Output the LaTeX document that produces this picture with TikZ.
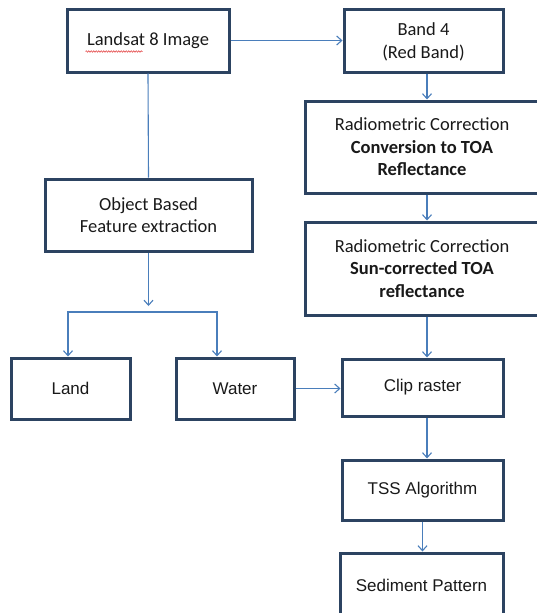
\documentclass[tikz,border=0pt]{standalone}
\usepackage{fontspec}
\setmainfont{Carlito}
\newfontfamily\arialfont{Liberation Sans}
\usetikzlibrary{arrows.meta,decorations.pathmorphing}

\definecolor{boxline}{HTML}{2C4361}
\definecolor{flowline}{HTML}{4A7EBB}
\definecolor{spellred}{HTML}{E03030}

\tikzset{
  procbox/.style={draw=boxline, line width=3pt, inner sep=0pt, align=center,
    font=\fontsize{18.5}{22.5}\selectfont, text=black!90},
  arialbox/.style={procbox, font=\arialfont\fontsize{17}{20}\selectfont},
  flow/.style={draw=flowline, line width=1.1pt, -{Straight Barb[length=5pt,width=9pt]}},
  link/.style={draw=flowline, line width=1.1pt}
}

\begin{document}
\begin{tikzpicture}[x=1pt, y=-1pt]
  \useasboundingbox (0,0) rectangle (536,613);

  % left column
  \node[procbox, minimum width=162pt, minimum height=63pt] (landsat) at (148,40.5) {Landsat 8 Image};
  \node[procbox, minimum width=207pt, minimum height=72pt] (object) at (148.5,215) {Object Based\\Feature extraction};
  \node[arialbox, minimum width=119pt, minimum height=61pt] (land) at (70.5,388.5) {Land};
  \node[arialbox, minimum width=118pt, minimum height=61pt] (water) at (235,388.5) {Water};

  % right column
  \node[procbox, minimum width=159pt, minimum height=63pt] (band4) at (423.5,40.5) {\strut Band 4\\(Red Band)};
  \node[procbox, minimum width=234pt, minimum height=92pt] (rad1) at (422,147)
    {Radiometric Correction\\\textbf{Conversion to TOA}\\\textbf{Reflectance}};
  \node[procbox, minimum width=234pt, minimum height=93pt] (rad2) at (422,268.5)
    {Radiometric Correction\\\textbf{Sun-corrected TOA}\\\textbf{reflectance}};
  \node[arialbox, minimum width=161pt, minimum height=57pt] (clip) at (422.5,387.5) {Clip raster};
  \node[arialbox, minimum width=161pt, minimum height=60pt] (tss) at (422.5,490) {TSS Algorithm};
  \node[arialbox, minimum width=163pt, minimum height=64pt] (sed) at (421.5,585) {Sediment Pattern};

  % spell-check underline
  \draw[spellred, line width=0.5pt, decorate,
    decoration={snake, amplitude=0.8pt, segment length=2.5pt}] (85.5,51.5) -- (142.5,51.5);

  % connectors
  \coordinate (split) at (148.5,306);
  \coordinate (bl) at (68,312);
  \coordinate (br) at (217,312);
  \coordinate (rcol) at (427,0);

  \draw[flow] (landsat.east) -- (landsat.east -| band4.west);
  \draw[link] (landsat.south) -- (object.north);
  \draw[flow] (object.south) -- (split);
  \draw[flow, {Straight Barb[length=5pt,width=9pt]}-{Straight Barb[length=5pt,width=9pt]}]
    (bl |- land.north) -- (bl) -- (br) -- (br |- water.north);
  \draw[flow] (water.east) -- (water.east -| clip.west);

  \draw[flow] (rcol |- band4.south) -- (rcol |- rad1.north);
  \draw[flow] (rcol |- rad1.south) -- (rcol |- rad2.north);
  \draw[flow] (rcol |- rad2.south) -- (rcol |- clip.north);
  \draw[flow] (rcol |- clip.south) -- (rcol |- tss.north);
  \draw[flow] (tss.south) -- (tss.south |- sed.north);
\end{tikzpicture}
\end{document}
